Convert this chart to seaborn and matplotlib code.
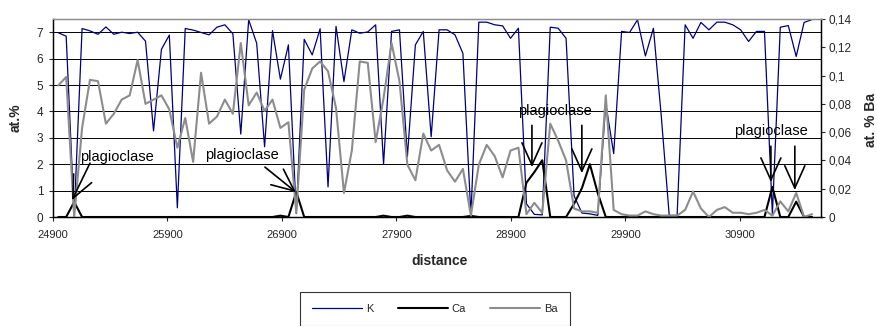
import matplotlib
matplotlib.use("Agg")
import matplotlib.pyplot as plt
import numpy as np
import pandas as pd
import seaborn as sns
from matplotlib.lines import Line2D

# ---------------- data ----------------
distance = [24946, 25015, 25085, 25154, 25223, 25293, 25362, 25431, 25500, 25570,
            25639, 25708, 25778, 25847, 25916, 25986, 26055, 26124, 26193, 26263,
            26332, 26401, 26471, 26540, 26609, 26679, 26748, 26817, 26886, 26956,
            27025, 27094, 27164, 27233, 27302, 27372, 27441, 27510, 27579, 27649,
            27718, 27787, 27857, 27926, 27995, 28065, 28134, 28203, 28272, 28342,
            28411, 28480, 28550, 28619, 28688, 28758, 28827, 28896, 28965, 29035,
            29104, 29173, 29243, 29312, 29381, 29451, 29520, 29589, 29658, 29728,
            29797, 29866, 29936, 30005, 30074, 30144, 30213, 30282, 30351, 30421,
            30490, 30559, 30629, 30698, 30767, 30837, 30906, 30975, 31044, 31114,
            31183, 31252, 31322, 31391, 31460, 31530]

K = [6.98, 6.85, 0.06, 7.14, 7.05, 6.92, 7.2, 6.92, 7.0, 6.95,
     7.0, 6.66, 3.26, 6.35, 6.89, 0.35, 7.14, 7.08, 6.99, 6.9,
     7.19, 7.28, 6.94, 3.14, 7.47, 6.58, 2.66, 7.06, 5.22, 6.52,
     0.13, 6.73, 6.14, 7.13, 1.14, 7.22, 5.13, 7.09, 6.96, 7.01,
     7.28, 2.0, 7.03, 7.09, 2.28, 6.52, 7.03, 3.04, 7.09, 7.09,
     6.9, 6.2, 0.06, 7.38, 7.38, 7.28, 7.24, 6.77, 7.15, 0.5,
     0.1, 0.08, 7.19, 7.15, 6.77, 0.8, 0.15, 0.12, 0.06, 4.3,
     2.4, 7.03, 6.99, 7.47, 6.1, 7.15, 3.8, 0.06, 0.06, 7.28,
     6.77, 7.37, 7.09, 7.38, 7.38, 7.28, 7.09, 6.65, 7.03, 7.03,
     0.1, 7.19, 7.25, 6.08, 7.37, 7.48]

Ca = [0, 0, 0.57, 0, 0, 0, 0, 0, 0, 0,
      0, 0, 0, 0, 0, 0, 0, 0, 0, 0,
      0, 0, 0, 0, 0, 0, 0, 0, 0.05, 0,
      0.95, 0, 0, 0, 0, 0, 0, 0, 0, 0,
      0, 0.05, 0, 0, 0.05, 0, 0, 0, 0, 0,
      0, 0, 0.04, 0, 0, 0, 0, 0, 0, 1.3,
      1.7, 2.15, 0, 0, 0, 0.5, 1.1, 2.0, 0.9, 0,
      0, 0, 0, 0, 0, 0, 0, 0, 0, 0,
      0, 0, 0, 0, 0, 0, 0, 0, 0, 0,
      1.14, 0, 0, 0.58, 0, 0]

Ba = [0.093, 0.099, 0.0, 0.063, 0.097, 0.096, 0.066, 0.073, 0.083, 0.086,
      0.111, 0.080, 0.083, 0.086, 0.076, 0.049, 0.070, 0.039, 0.102, 0.066,
      0.071, 0.083, 0.073, 0.123, 0.079, 0.088, 0.075, 0.083, 0.063, 0.067,
      0.003, 0.090, 0.105, 0.110, 0.103, 0.077, 0.017, 0.047, 0.110, 0.109,
      0.053, 0.084, 0.123, 0.096, 0.037, 0.026, 0.059, 0.047, 0.051, 0.033,
      0.025, 0.034, 0.001, 0.037, 0.051, 0.043, 0.028, 0.047, 0.049, 0.002,
      0.010, 0.003, 0.066, 0.054, 0.040, 0.006, 0.004, 0.004, 0.003, 0.086,
      0.005, 0.002, 0.001, 0.001, 0.004, 0.002, 0.001, 0.001, 0.001, 0.005,
      0.018, 0.006, 0.0, 0.005, 0.007, 0.003, 0.003, 0.002, 0.003, 0.005,
      0.001, 0.011, 0.004, 0.017, 0.0, 0.002]

x_ticks = [24900, 25900, 26900, 27900, 28900, 29900, 30900]
left_ticks = [0, 1, 2, 3, 4, 5, 6, 7]
right_ticks = [0, 0.02, 0.04, 0.06, 0.08, 0.10, 0.12, 0.14]
right_tick_labels = ["0", "0,02", "0,04", "0,06", "0,08", "0,1", "0,12", "0,14"]
series_names = ["K", "Ca", "Ba"]

# annotation texts (x, y in left-axis data units)
label_text = "plagioclase"
label_pos = [(25136, 2.26), (26227, 2.36), (28960, 4.02), (30847, 3.26)]
# arrows: (tail, tip)
arrows = [((25223, 2.04), (25066, 0.64)),
          ((26751, 1.89), (27022, 0.94)),
          ((29083, 3.47), (29083, 1.89)),
          ((29519, 3.47), (29519, 1.66)),
          ((31170, 2.68), (31170, 1.32)),
          ((31379, 2.68), (31379, 1.02))]

df = pd.DataFrame({"distance": distance, "K": K, "Ca": Ca, "Ba": Ba})

# ---------------- style ----------------
sns.set_style("white")
plt.rcParams["font.family"] = ["Liberation Sans", "DejaVu Sans"]

W, H = 878, 326
fig = plt.figure(figsize=(W / 100, H / 100), dpi=100)
L, R, T, B = 53, 821.5, 19, 217
ax = fig.add_axes([L / W, 1 - B / H, (R - L) / W, (B - T) / H])
ax2 = ax.twinx()

c_K, c_Ca, c_Ba = "#000080", "#000000", "#8c8c8c"

sns.lineplot(data=df, x="distance", y="K", ax=ax, color=c_K, lw=0.9,
             estimator=None, sort=False, legend=False)
sns.lineplot(data=df, x="distance", y="Ca", ax=ax, color=c_Ca, lw=1.5,
             estimator=None, sort=False, legend=False)
sns.lineplot(data=df, x="distance", y="Ba", ax=ax2, color=c_Ba, lw=1.5,
             estimator=None, sort=False, legend=False)

ax.set_xlim(24900, 31612)
ax.set_ylim(0, 7.5)
ax2.set_ylim(0, 0.14)

ax.set_xticks(x_ticks)
ax.set_xticklabels([str(v) for v in x_ticks])
ax.set_yticks(left_ticks)
ax.set_yticklabels([str(v) for v in left_ticks])
ax2.set_yticks(right_ticks)
ax2.set_yticklabels(right_tick_labels)

ax.yaxis.grid(True, color="black", lw=0.7)
ax.set_axisbelow(True)
ax.xaxis.grid(False)

for a in (ax, ax2):
    for s in a.spines.values():
        s.set_linewidth(0.9)
        s.set_color("black")
    a.spines["top"].set_color("#8c8c8c")

ax.tick_params(axis="x", direction="out", length=3, width=0.8, pad=6,
               labelsize=8, bottom=True)
ax.tick_params(axis="y", direction="out", length=3, width=0.8, pad=4,
               labelsize=8.5, left=True)
ax2.tick_params(axis="y", direction="out", length=3, width=0.8, pad=2,
                labelsize=8.5, right=True)

ax.set_xlabel("")
ax.set_ylabel("")
ax2.set_ylabel("")

fig.text(16 / W, 1 - 118 / H, "at.%", rotation=90, ha="center", va="center",
         fontsize=10, fontweight="bold")
fig.text(871 / W, 1 - 120 / H, "at. % Ba", rotation=90, ha="center",
         va="center", fontsize=10, fontweight="bold")
fig.text(440 / W, 1 - 261 / H, "distance", ha="center", va="center",
         fontsize=10, fontweight="bold")

# annotations
for (x, y) in label_pos:
    ax2.text(x, y, label_text, transform=ax.transData, ha="left",
             va="center", fontsize=10.5, color="black", zorder=10)
for (tail, tip) in arrows:
    ax2.annotate("", xy=tip, xycoords=ax.transData, xytext=tail,
                 textcoords=ax.transData,
                 arrowprops=dict(arrowstyle="->,head_length=1.6,head_width=0.72",
                                 color="black", lw=1.2, shrinkA=0, shrinkB=0,
                                 mutation_scale=10),
                 zorder=10)

# legend
handles = [Line2D([], [], color=c_K, lw=0.9),
           Line2D([], [], color=c_Ca, lw=1.5),
           Line2D([], [], color=c_Ba, lw=1.5)]
leg = fig.legend(handles, series_names, loc="upper center",
                 bbox_to_anchor=(435 / W, 1 - 292 / H), ncol=3, fontsize=8,
                 frameon=True, fancybox=False, edgecolor="black",
                 handlelength=4.5, handletextpad=0.35, columnspacing=2.2,
                 borderpad=1.1, borderaxespad=0)
leg.get_frame().set_linewidth(0.8)

fig.savefig("out.png", dpi=100)
